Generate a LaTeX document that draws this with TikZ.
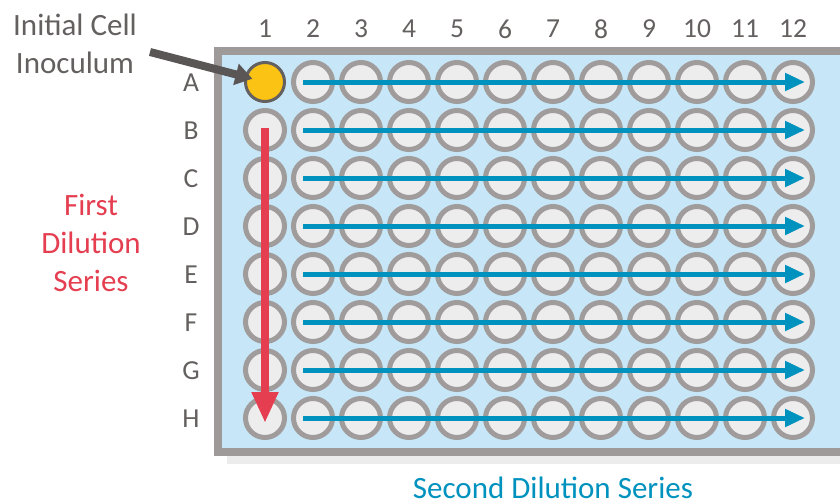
\documentclass[tikz,border=0pt]{standalone}
\usepackage{fontspec}
\setmainfont{Carlito}
\usepackage{tikz}
\usetikzlibrary{arrows.meta,calc}

\definecolor{PlateGray}{RGB}{158,154,153}
\definecolor{PlateBlue}{RGB}{199,230,248}
\definecolor{ShadowGray}{RGB}{236,236,236}
\definecolor{WellFill}{RGB}{237,237,237}
\definecolor{WellLine}{RGB}{160,156,155}
\definecolor{SeriesBlue}{RGB}{0,146,190}
\definecolor{SeriesRed}{RGB}{228,62,80}
\definecolor{InocYellow}{RGB}{251,195,19}
\definecolor{LabelGray}{RGB}{100,96,95}

\begin{document}
\begin{tikzpicture}[x=1pt,y=-1pt]
  \useasboundingbox (0,0) rectangle (840,503);
  \tikzstyle{WellStyle}=[circle,inner sep=0pt,minimum size=39pt,line width=5pt,draw=WellLine,fill=WellFill]
  \tikzstyle{LabelStyle}=[inner sep=0pt,text=LabelGray,font=\fontsize{27.5}{33}\selectfont]
  \tikzstyle{TitleStyle}=[inner sep=0pt,align=center,font=\fontsize{31}{38.3}\selectfont]

  % plate
  \fill[ShadowGray] (227,456) rectangle (850,464);
  \fill[PlateGray] (214,47) rectangle (850,456);
  \fill[PlateBlue] (222,55) rectangle (850,448);

  \node[LabelStyle] (c1) at (265,29) {1};
  \node[LabelStyle] (c2) at (313,29) {2};
  \node[LabelStyle] (c3) at (361,29) {3};
  \node[LabelStyle] (c4) at (409,29) {4};
  \node[LabelStyle] (c5) at (457,29) {5};
  \node[LabelStyle] (c6) at (505,29) {6};
  \node[LabelStyle] (c7) at (553,29) {7};
  \node[LabelStyle] (c8) at (601,29) {8};
  \node[LabelStyle] (c9) at (649,29) {9};
  \node[LabelStyle] (c10) at (697,29) {10};
  \node[LabelStyle] (c11) at (745,29) {11};
  \node[LabelStyle] (c12) at (793,29) {12};

  \node[LabelStyle] (rA) at (191,83) {A};
  \node[LabelStyle] (rB) at (191,131) {B};
  \node[LabelStyle] (rC) at (191,179) {C};
  \node[LabelStyle] (rD) at (191,227) {D};
  \node[LabelStyle] (rE) at (191,275) {E};
  \node[LabelStyle] (rF) at (191,323) {F};
  \node[LabelStyle] (rG) at (191,371) {G};
  \node[LabelStyle] (rH) at (191,419) {H};

  % wells
  \node[WellStyle,fill=InocYellow,draw=LabelGray,line width=3pt] (A1) at (265,82) {};
  \node[WellStyle] (A2) at (313,82) {};
  \node[WellStyle] (A3) at (361,82) {};
  \node[WellStyle] (A4) at (409,82) {};
  \node[WellStyle] (A5) at (457,82) {};
  \node[WellStyle] (A6) at (505,82) {};
  \node[WellStyle] (A7) at (553,82) {};
  \node[WellStyle] (A8) at (601,82) {};
  \node[WellStyle] (A9) at (649,82) {};
  \node[WellStyle] (A10) at (697,82) {};
  \node[WellStyle] (A11) at (745,82) {};
  \node[WellStyle] (A12) at (793,82) {};

  \node[WellStyle] (B1) at (265,130) {};
  \node[WellStyle] (B2) at (313,130) {};
  \node[WellStyle] (B3) at (361,130) {};
  \node[WellStyle] (B4) at (409,130) {};
  \node[WellStyle] (B5) at (457,130) {};
  \node[WellStyle] (B6) at (505,130) {};
  \node[WellStyle] (B7) at (553,130) {};
  \node[WellStyle] (B8) at (601,130) {};
  \node[WellStyle] (B9) at (649,130) {};
  \node[WellStyle] (B10) at (697,130) {};
  \node[WellStyle] (B11) at (745,130) {};
  \node[WellStyle] (B12) at (793,130) {};

  \node[WellStyle] (C1) at (265,178) {};
  \node[WellStyle] (C2) at (313,178) {};
  \node[WellStyle] (C3) at (361,178) {};
  \node[WellStyle] (C4) at (409,178) {};
  \node[WellStyle] (C5) at (457,178) {};
  \node[WellStyle] (C6) at (505,178) {};
  \node[WellStyle] (C7) at (553,178) {};
  \node[WellStyle] (C8) at (601,178) {};
  \node[WellStyle] (C9) at (649,178) {};
  \node[WellStyle] (C10) at (697,178) {};
  \node[WellStyle] (C11) at (745,178) {};
  \node[WellStyle] (C12) at (793,178) {};

  \node[WellStyle] (D1) at (265,226) {};
  \node[WellStyle] (D2) at (313,226) {};
  \node[WellStyle] (D3) at (361,226) {};
  \node[WellStyle] (D4) at (409,226) {};
  \node[WellStyle] (D5) at (457,226) {};
  \node[WellStyle] (D6) at (505,226) {};
  \node[WellStyle] (D7) at (553,226) {};
  \node[WellStyle] (D8) at (601,226) {};
  \node[WellStyle] (D9) at (649,226) {};
  \node[WellStyle] (D10) at (697,226) {};
  \node[WellStyle] (D11) at (745,226) {};
  \node[WellStyle] (D12) at (793,226) {};

  \node[WellStyle] (E1) at (265,274) {};
  \node[WellStyle] (E2) at (313,274) {};
  \node[WellStyle] (E3) at (361,274) {};
  \node[WellStyle] (E4) at (409,274) {};
  \node[WellStyle] (E5) at (457,274) {};
  \node[WellStyle] (E6) at (505,274) {};
  \node[WellStyle] (E7) at (553,274) {};
  \node[WellStyle] (E8) at (601,274) {};
  \node[WellStyle] (E9) at (649,274) {};
  \node[WellStyle] (E10) at (697,274) {};
  \node[WellStyle] (E11) at (745,274) {};
  \node[WellStyle] (E12) at (793,274) {};

  \node[WellStyle] (F1) at (265,322) {};
  \node[WellStyle] (F2) at (313,322) {};
  \node[WellStyle] (F3) at (361,322) {};
  \node[WellStyle] (F4) at (409,322) {};
  \node[WellStyle] (F5) at (457,322) {};
  \node[WellStyle] (F6) at (505,322) {};
  \node[WellStyle] (F7) at (553,322) {};
  \node[WellStyle] (F8) at (601,322) {};
  \node[WellStyle] (F9) at (649,322) {};
  \node[WellStyle] (F10) at (697,322) {};
  \node[WellStyle] (F11) at (745,322) {};
  \node[WellStyle] (F12) at (793,322) {};

  \node[WellStyle] (G1) at (265,370) {};
  \node[WellStyle] (G2) at (313,370) {};
  \node[WellStyle] (G3) at (361,370) {};
  \node[WellStyle] (G4) at (409,370) {};
  \node[WellStyle] (G5) at (457,370) {};
  \node[WellStyle] (G6) at (505,370) {};
  \node[WellStyle] (G7) at (553,370) {};
  \node[WellStyle] (G8) at (601,370) {};
  \node[WellStyle] (G9) at (649,370) {};
  \node[WellStyle] (G10) at (697,370) {};
  \node[WellStyle] (G11) at (745,370) {};
  \node[WellStyle] (G12) at (793,370) {};

  \node[WellStyle] (H1) at (265,418) {};
  \node[WellStyle] (H2) at (313,418) {};
  \node[WellStyle] (H3) at (361,418) {};
  \node[WellStyle] (H4) at (409,418) {};
  \node[WellStyle] (H5) at (457,418) {};
  \node[WellStyle] (H6) at (505,418) {};
  \node[WellStyle] (H7) at (553,418) {};
  \node[WellStyle] (H8) at (601,418) {};
  \node[WellStyle] (H9) at (649,418) {};
  \node[WellStyle] (H10) at (697,418) {};
  \node[WellStyle] (H11) at (745,418) {};
  \node[WellStyle] (H12) at (793,418) {};

  % titles
  \node[TitleStyle,text=LabelGray] (inoc) at (75,44) {Initial Cell\\Inoculum};
  \node[TitleStyle,text=SeriesRed] (first) at (91,243) {First\\Dilution\\Series};
  \node[TitleStyle,text=SeriesBlue] (second) at (553,488) {Second Dilution Series};
  \coordinate (inocTail) at (150,52);

  % second dilution series
  \tikzstyle{EdgeStyle}=[draw=SeriesBlue,line width=5pt,-{Triangle[length=20pt,width=17pt]}]
  \draw[EdgeStyle] ([xshift=-10pt]A2.center) -- ([xshift=12pt]A12.center);
  \draw[EdgeStyle] ([xshift=-10pt]B2.center) -- ([xshift=12pt]B12.center);
  \draw[EdgeStyle] ([xshift=-10pt]C2.center) -- ([xshift=12pt]C12.center);
  \draw[EdgeStyle] ([xshift=-10pt]D2.center) -- ([xshift=12pt]D12.center);
  \draw[EdgeStyle] ([xshift=-10pt]E2.center) -- ([xshift=12pt]E12.center);
  \draw[EdgeStyle] ([xshift=-10pt]F2.center) -- ([xshift=12pt]F12.center);
  \draw[EdgeStyle] ([xshift=-10pt]G2.center) -- ([xshift=12pt]G12.center);
  \draw[EdgeStyle] ([xshift=-10pt]H2.center) -- ([xshift=12pt]H12.center);

  % first dilution series
  \tikzstyle{EdgeStyle}=[draw=SeriesRed,line width=8pt,-{Triangle[length=31pt,width=25pt]}]
  \draw[EdgeStyle] ([yshift=2pt]B1.center) -- ([yshift=-5pt]H1.center);

  \tikzstyle{EdgeStyle}=[draw=LabelGray!90!black,line width=8pt,shorten >=13pt,-{Triangle[length=17pt,width=21pt]}]
  \draw[EdgeStyle] (inocTail) -- (A1.center);
\end{tikzpicture}
\end{document}
